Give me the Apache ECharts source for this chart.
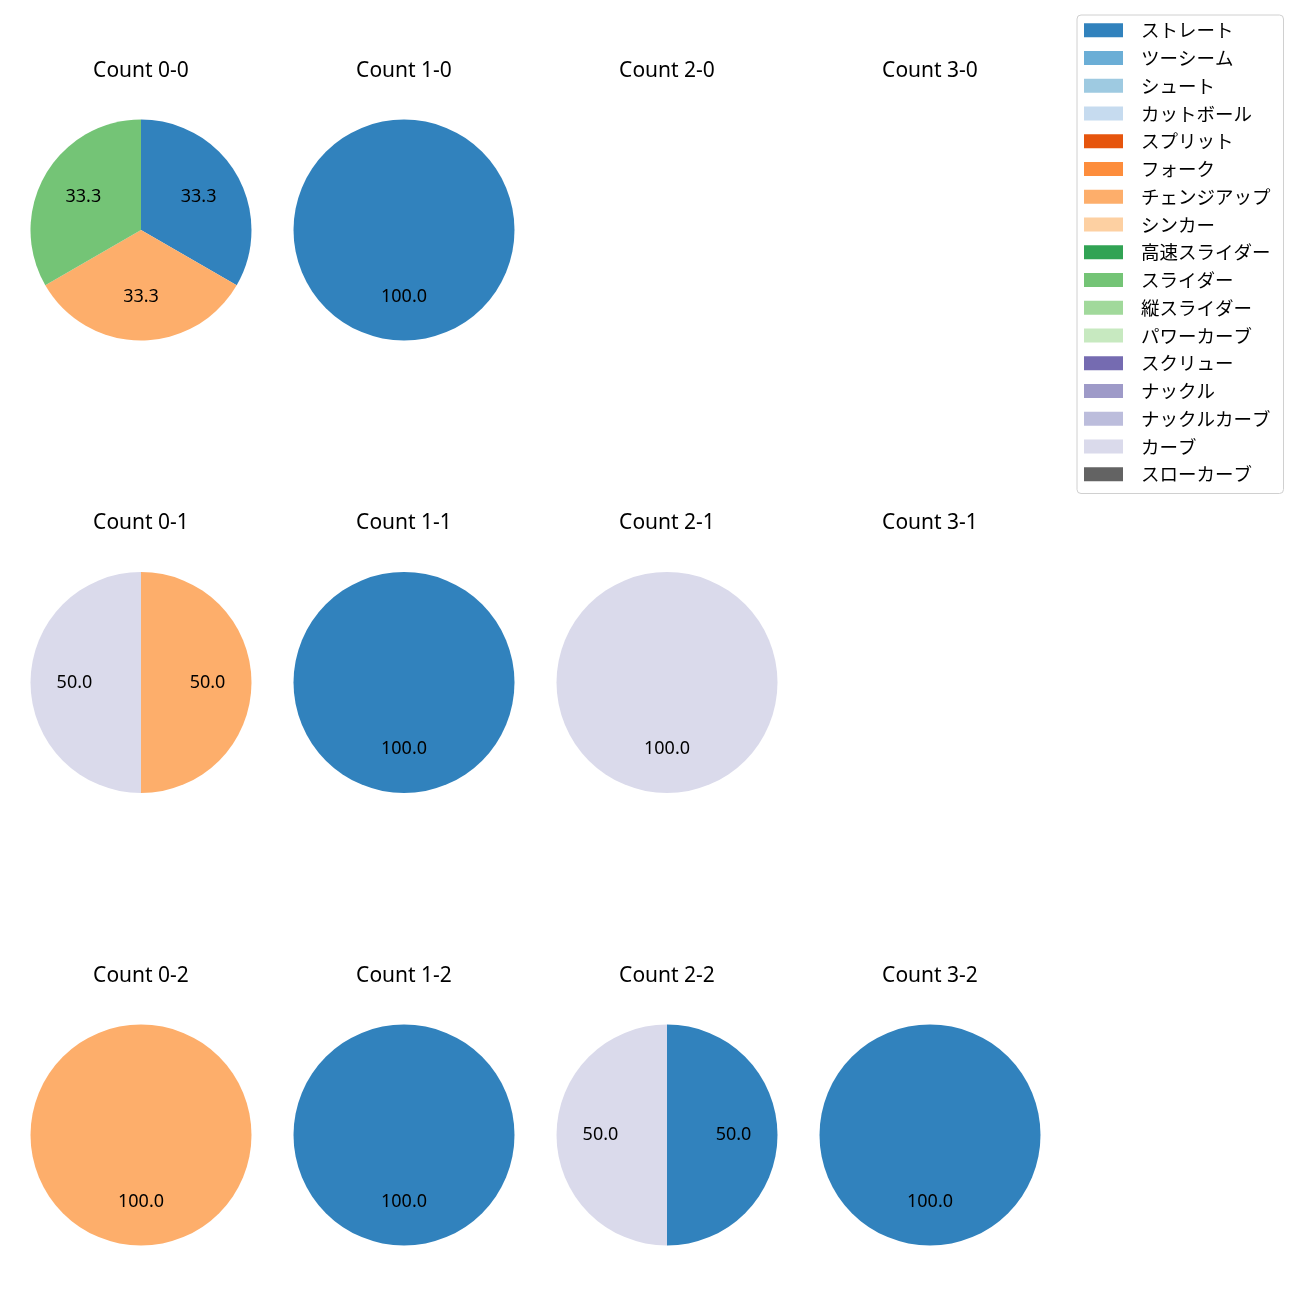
<!DOCTYPE html>
<html>
<head>
<meta charset="utf-8">
<script src="https://cdn.jsdelivr.net/npm/echarts@6/dist/echarts.min.js"></script>
<style>html,body{margin:0;padding:0;background:#fff}#c{width:1300px;height:1300px}</style>
</head>
<body>
<div id="c"></div>
<script>
// ---- data ----
const pitchTypes = ['ストレート','ツーシーム','シュート','カットボール','スプリット','フォーク','チェンジアップ','シンカー','高速スライダー','スライダー','縦スライダー','パワーカーブ','スクリュー','ナックル','ナックルカーブ','カーブ','スローカーブ'];
const balls = [0, 1, 2, 3];
const strikes = [0, 1, 2];
// [pitch type, share] per count (ball-strike)
const pie_0_0 = [['ストレート', 1], ['チェンジアップ', 1], ['スライダー', 1]];
const pie_1_0 = [['ストレート', 1]];
const pie_2_0 = [];
const pie_3_0 = [];
const pie_0_1 = [['チェンジアップ', 1], ['カーブ', 1]];
const pie_1_1 = [['ストレート', 1]];
const pie_2_1 = [['カーブ', 1]];
const pie_3_1 = [];
const pie_0_2 = [['チェンジアップ', 1]];
const pie_1_2 = [['ストレート', 1]];
const pie_2_2 = [['ストレート', 1], ['カーブ', 1]];
const pie_3_2 = [['ストレート', 1]];

// ---- style ----
const palette = ['#3182bd','#6baed6','#9ecae1','#c6dbef','#e6550d','#fd8d3c','#fdae6b','#fdd0a2','#31a354','#74c476','#a1d99b','#c7e9c0','#756bb1','#9e9ac8','#bcbddc','#dadaeb','#636363'];
const LATIN = '"Noto Sans", "Noto Sans CJK JP", sans-serif';
const CJK = '"Noto Sans CJK JP", sans-serif';
const panels = {
  '0-0': pie_0_0, '1-0': pie_1_0, '2-0': pie_2_0, '3-0': pie_3_0,
  '0-1': pie_0_1, '1-1': pie_1_1, '2-1': pie_2_1, '3-1': pie_3_1,
  '0-2': pie_0_2, '1-2': pie_1_2, '2-2': pie_2_2, '3-2': pie_3_2
};
const colX = [141, 404, 667, 930];
const rowY = [230, 682.5, 1135];
const R = 110.5;

const colorOf = n => palette[pitchTypes.indexOf(n)];
const titles = [];
const series = [];
strikes.forEach((s, si) => {
  balls.forEach((b, bi) => {
    const key = b + '-' + s;
    const rows = panels[key];
    const cx = colX[bi], cy = rowY[si];
    titles.push({
      text: 'Count ' + key,
      left: cx, top: cy - R - 59,
      padding: 0,
      textAlign: 'center',
      textStyle: { fontFamily: LATIN, fontSize: 21, fontWeight: 'normal', color: '#000' }
    });
    const data = rows.map(r => ({ name: r[0], value: r[1], itemStyle: { color: colorOf(r[0]) } }));
    // visible wedges
    series.push({
      type: 'pie', center: [cx, cy], radius: [0, R],
      startAngle: 90, clockwise: true, showEmptyCircle: false,
      avoidLabelOverlap: false, silent: true,
      itemStyle: { borderWidth: 0 },
      label: { show: false }, labelLine: { show: false },
      emphasis: { disabled: true },
      data: data
    });
    // label ring (transparent) to put labels at about 0.6 R
    series.push({
      type: 'pie', center: [cx, cy], radius: [0.15 * R, R],
      startAngle: 90, clockwise: true, showEmptyCircle: false,
      avoidLabelOverlap: false, silent: true,
      itemStyle: { borderWidth: 0, color: 'rgba(0,0,0,0)' },
      label: {
        show: true, position: 'inside', color: '#000',
        fontFamily: LATIN, fontSize: 18,
        formatter: p => p.percent.toFixed(1)
      },
      labelLine: { show: false },
      emphasis: { disabled: true },
      data: rows.map(r => ({ name: r[0], value: r[1] }))
    });
  });
});
// legend-only series (zero radius) so every pitch type has an entry
series.push({
  type: 'pie', center: [-100, -100], radius: [0, 0], silent: true,
  label: { show: false }, labelLine: { show: false },
  data: pitchTypes.map(n => ({ name: n, value: 1, itemStyle: { color: colorOf(n) } }))
});

const chart = echarts.init(document.getElementById('c'), null, { renderer: 'canvas' });
chart.setOption({
  backgroundColor: '#fff',
  animation: false,
  title: titles,
  legend: {
    data: pitchTypes,
    orient: 'vertical',
    left: 1077, top: 15,
    padding: [6, 13, 10, 7],
    itemWidth: 39, itemHeight: 14, itemGap: 9.25,
    icon: 'rect',
    selectedMode: false,
    borderColor: '#d0d0d0', borderWidth: 1, borderRadius: 4,
    textStyle: { fontFamily: CJK, fontSize: 18.5, color: '#000', padding: [0, 0, 0, 13], width: 140 }
  },
  series: series
});
</script>
</body>
</html>
